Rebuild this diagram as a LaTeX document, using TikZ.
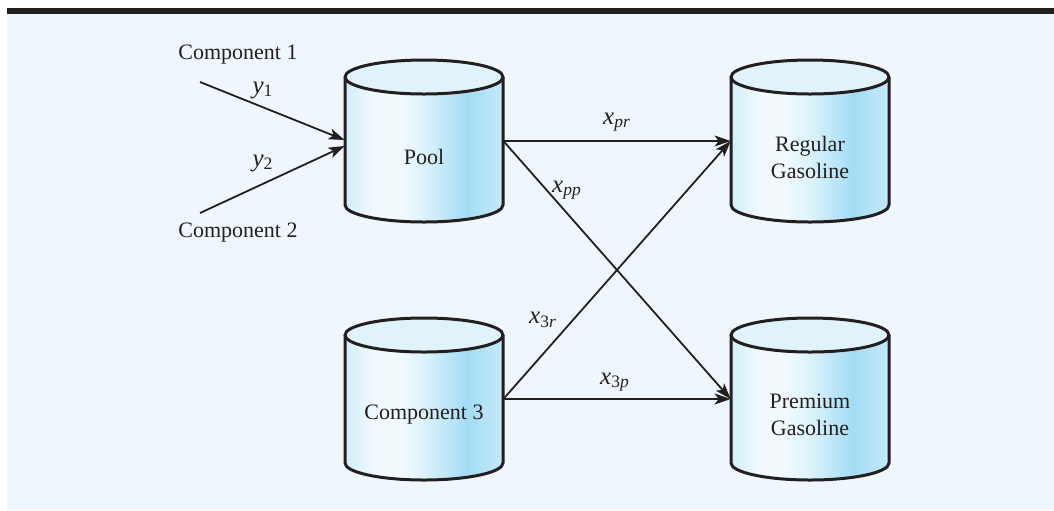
\documentclass[tikz,border=0pt]{standalone}
\usepackage{fontspec}
\setmainfont{Liberation Serif}
\usetikzlibrary{arrows.meta}
\definecolor{bgblue}{HTML}{EFF7FD}
\definecolor{inkdark}{HTML}{231F20}
\definecolor{tankA}{HTML}{D4EEFA}
\definecolor{tankB}{HTML}{F2FAFE}
\definecolor{tankM}{HTML}{DDF2FB}
\definecolor{tankC}{HTML}{A3DCF5}
\definecolor{tankD}{HTML}{C6E9F8}
\definecolor{tanktop}{HTML}{E0F3FB}
\pgfdeclarehorizontalshading{tankshade}{100bp}{color(0bp)=(tankA); color(25bp)=(tankA); color(35bp)=(tankB); color(42bp)=(tankB); color(50bp)=(tankM); color(63.5bp)=(tankC); color(75bp)=(tankD); color(100bp)=(tankD)}
\newcommand{\ArrTip}{Stealth[length=8pt,width=5.5pt,inset=2pt]}
\tikzset{flow/.style={-{\ArrTip},line width=0.9pt,draw=inkdark}}
\tikzset{tankline/.style={line width=1.5pt,draw=inkdark,line join=round}}
\tikzset{tankspot/.style={minimum width=79pt,minimum height=64pt,inner sep=0pt}}
\tikzset{txt/.style={font=\fontsize{11}{13.5}\selectfont,align=center,text=inkdark,inner sep=1pt}}
\newcommand{\Tank}[4]{%
\shade[shading=tankshade](#2-79,#3-64)--(#2-79,#3+64)arc[start angle=180,end angle=0,x radius=79,y radius=17]--(#2+79,#3-64)--cycle;
\draw[tankline](#2-79,#3-64)--(#2-79,#3+64)arc[start angle=180,end angle=0,x radius=79,y radius=17]--(#2+79,#3-64);
\draw[tankline,fill=tanktop](#2,#3-64)ellipse[x radius=79,y radius=17];
\node[tankspot](#1)at(#2,#3){};\node[txt](#1-text)at(#2,#3+16){#4};}

\begin{document}
\begin{tikzpicture}[x=0.5pt,y=-0.5pt]
\useasboundingbox(0,0)rectangle(1054,510);
\fill[bgblue](7,14)rectangle(1054,510);\fill[inkdark](7,8)rectangle(1054,14);
\Tank{pool}{424}{141}{Pool}\Tank{regular}{810}{141}{Regular\\Gasoline}
\Tank{compthree}{424}{399}{Component 3}\Tank{premium}{810}{399}{Premium\\Gasoline}
\node[txt](compone)at(238,55){Component 1};\node[txt](comptwo)at(238,233){Component 2};
\coordinate(onestart)at(200,82);\coordinate(twostart)at(200,213);
\draw[flow](onestart)--([yshift=0.5pt]pool.west);\draw[flow](twostart)--([yshift=-2.5pt]pool.west);
\draw[flow](pool.east)--(regular.west);\draw[flow](pool.east)--(premium.west);
\draw[flow](compthree.east)--(regular.west);\draw[flow](compthree.east)--(premium.west);
\begin{scope}[every node/.style={txt,font=\fontsize{12.5}{14}\selectfont\itshape}]
\node(yone)at(263,90){y\textsubscript{\upshape 1}};\node(ytwo)at(263,163){y\textsubscript{\upshape 2}};
\node(xpr)at(617,122){x\textsubscript{pr}};\node(xpp)at(567,190){x\textsubscript{pp}};
\node(xthreer)at(543,320){x\textsubscript{{\upshape 3}r}};\node(xthreep)at(615,382){x\textsubscript{{\upshape 3}p}};
\end{scope}
\end{tikzpicture}
\end{document}
